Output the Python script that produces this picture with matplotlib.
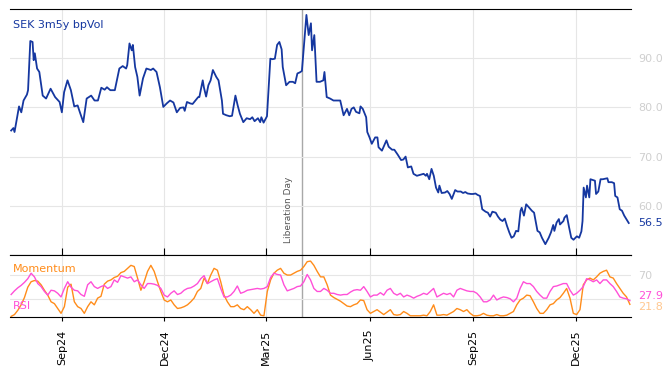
import numpy as np
import pandas as pd
from matplotlib import pyplot as plt
import matplotlib.dates as mdates
import matplotlib.transforms as mtransforms

# SEK 3m5y bp vol
vol_dates = [
    "2024-07-18", "2024-07-20", "2024-07-21", "2024-07-25", "2024-07-27", "2024-07-29", "2024-08-01",
    "2024-08-02", "2024-08-04", "2024-08-06", "2024-08-07", "2024-08-08", "2024-08-10", "2024-08-12",
    "2024-08-15", "2024-08-18", "2024-08-22", "2024-08-26", "2024-08-30", "2024-09-01", "2024-09-03",
    "2024-09-06", "2024-09-09", "2024-09-12", "2024-09-15", "2024-09-17", "2024-09-20", "2024-09-23",
    "2024-09-27", "2024-09-30", "2024-10-03", "2024-10-06", "2024-10-09", "2024-10-11", "2024-10-14",
    "2024-10-18", "2024-10-22", "2024-10-25", "2024-10-28", "2024-10-29", "2024-10-31", "2024-11-02",
    "2024-11-03", "2024-11-05", "2024-11-07", "2024-11-09", "2024-11-12", "2024-11-15", "2024-11-19",
    "2024-11-21", "2024-11-24", "2024-11-27", "2024-11-30", "2024-12-03", "2024-12-06", "2024-12-09",
    "2024-12-12", "2024-12-15", "2024-12-18", "2024-12-19", "2024-12-21", "2024-12-24", "2024-12-26",
    "2024-12-31", "2025-01-01", "2025-01-04", "2025-01-05", "2025-01-07", "2025-01-09", "2025-01-11",
    "2025-01-13", "2025-01-16", "2025-01-18", "2025-01-21", "2025-01-22", "2025-01-25", "2025-01-28",
    "2025-01-30", "2025-02-02", "2025-02-04", "2025-02-06", "2025-02-09", "2025-02-12", "2025-02-15",
    "2025-02-17", "2025-02-19", "2025-02-22", "2025-02-24", "2025-02-25", "2025-02-27", "2025-03-02",
    "2025-03-05", "2025-03-07", "2025-03-09", "2025-03-11", "2025-03-13", "2025-03-15", "2025-03-16",
    "2025-03-19", "2025-03-22", "2025-03-25", "2025-03-27", "2025-03-29", "2025-03-31", "2025-04-02",
    "2025-04-04", "2025-04-06", "2025-04-08", "2025-04-10", "2025-04-11", "2025-04-13", "2025-04-15",
    "2025-04-18", "2025-04-21", "2025-04-22", "2025-04-24", "2025-04-27", "2025-04-30", "2025-05-06",
    "2025-05-09", "2025-05-12", "2025-05-14", "2025-05-16", "2025-05-18", "2025-05-20", "2025-05-23",
    "2025-05-24", "2025-05-26", "2025-05-29", "2025-05-30", "2025-06-01", "2025-06-03", "2025-06-06",
    "2025-06-08", "2025-06-09", "2025-06-12", "2025-06-16", "2025-06-18", "2025-06-21", "2025-06-23",
    "2025-06-26", "2025-06-29", "2025-07-01", "2025-07-03", "2025-07-05", "2025-07-08", "2025-07-10",
    "2025-07-13", "2025-07-16", "2025-07-19", "2025-07-21", "2025-07-22", "2025-07-24", "2025-07-26",
    "2025-07-28", "2025-07-30", "2025-08-01", "2025-08-02", "2025-08-04", "2025-08-07", "2025-08-09",
    "2025-08-11", "2025-08-13", "2025-08-16", "2025-08-18", "2025-08-21", "2025-08-23", "2025-08-25",
    "2025-08-27", "2025-08-30", "2025-09-01", "2025-09-03", "2025-09-05", "2025-09-07", "2025-09-09",
    "2025-09-12", "2025-09-14", "2025-09-16", "2025-09-18", "2025-09-21", "2025-09-23", "2025-09-25",
    "2025-09-27", "2025-09-29", "2025-10-01", "2025-10-03", "2025-10-05", "2025-10-07", "2025-10-09",
    "2025-10-11", "2025-10-13", "2025-10-14", "2025-10-16", "2025-10-18", "2025-10-20", "2025-10-23",
    "2025-10-25", "2025-10-28", "2025-10-30", "2025-11-01", "2025-11-04", "2025-11-07", "2025-11-09",
    "2025-11-11", "2025-11-12", "2025-11-14", "2025-11-16", "2025-11-17", "2025-11-20", "2025-11-21",
    "2025-11-23", "2025-11-25", "2025-11-27", "2025-11-29", "2025-12-02", "2025-12-04", "2025-12-06",
    "2025-12-07", "2025-12-08", "2025-12-10", "2025-12-11", "2025-12-13", "2025-12-14", "2025-12-18",
    "2025-12-19", "2025-12-21", "2025-12-23", "2025-12-25", "2025-12-29", "2025-12-30", "2026-01-02",
    "2026-01-04", "2026-01-05", "2026-01-07", "2026-01-09", "2026-01-11", "2026-01-13", "2026-01-16",
    "2026-01-17",
]
vol = [
    75.3, 75.8, 75.0, 80.2, 79.0, 81.4, 82.6,
    83.5, 93.5, 93.3, 89.6, 91.0, 87.9, 87.2,
    82.4, 81.8, 83.8, 82.1, 81.1, 79.0, 83.1,
    85.5, 83.5, 80.2, 80.4, 79.0, 77.0, 81.8,
    82.4, 81.4, 81.4, 84.0, 83.6, 84.1, 83.5,
    83.5, 87.9, 88.4, 87.9, 88.6, 93.0, 91.6,
    92.7, 88.2, 86.2, 82.4, 85.9, 87.9, 87.6,
    87.9, 87.2, 84.1, 80.1, 80.8, 81.4, 81.0,
    79.0, 79.9, 80.0, 79.3, 81.1, 80.8, 80.7,
    82.1, 82.1, 85.5, 84.1, 82.2, 84.5, 85.5,
    87.6, 86.2, 85.5, 81.4, 78.7, 78.4, 78.2,
    78.3, 82.4, 80.4, 78.7, 77.0, 77.8, 77.6,
    78.0, 77.2, 77.8, 77.0, 78.0, 76.9, 78.2,
    89.9, 89.8, 89.9, 92.7, 93.3, 91.8, 88.2,
    84.5, 85.2, 85.2, 84.9, 86.9, 87.1, 87.4,
    93.0, 98.8, 94.7, 97.1, 91.6, 94.7, 85.2,
    85.2, 85.5, 87.2, 82.1, 81.8, 81.4, 81.4,
    78.4, 79.7, 78.4, 79.7, 80.0, 79.1, 78.8,
    80.2, 79.7, 78.0, 75.0, 73.9, 72.6, 73.9,
    73.9, 71.9, 71.2, 73.3, 72.0, 71.4, 71.4,
    70.4, 69.3, 69.4, 70.0, 67.8, 68.0, 66.5,
    66.1, 66.3, 66.5, 66.1, 66.5, 65.4, 67.5,
    66.1, 63.7, 62.7, 64.1, 62.6, 62.7, 63.0,
    62.4, 61.4, 63.2, 62.9, 62.9, 62.6, 62.8,
    62.5, 62.4, 62.4, 62.5, 62.2, 62.0, 59.3,
    58.8, 58.6, 57.8, 58.8, 58.6, 57.8, 57.2,
    56.9, 57.4, 55.9, 54.6, 53.5, 53.8, 54.9,
    54.8, 59.0, 59.6, 58.0, 60.3, 59.8, 59.0,
    58.6, 54.9, 54.6, 53.5, 52.2, 53.5, 54.6,
    56.1, 54.9, 56.6, 57.3, 56.2, 56.9, 57.6,
    58.1, 55.7, 53.5, 53.1, 53.8, 53.5, 54.8,
    56.9, 63.7, 61.7, 64.1, 61.7, 65.4, 65.1,
    62.4, 62.9, 65.4, 65.4, 65.6, 64.8, 64.8,
    64.6, 62.0, 61.7, 59.3, 59.0, 58.0, 56.9,
    56.5,
]

# momentum / RSI panel, read at an even spacing from 18 Jul 2024 to 18 Jan 2026
rsi = [
    38, 44, 49, 53, 58, 64, 73, 67, 56, 51, 43, 37, 45, 44, 40, 34, 48, 59, 50, 45,
    44, 38, 35, 54, 59, 51, 48, 51, 53, 48, 51, 62, 58, 69, 67, 65, 67, 59, 62, 54,
    48, 56, 56, 55, 53, 48, 37, 34, 40, 44, 38, 40, 45, 48, 49, 52, 56, 64, 69, 56,
    59, 62, 64, 48, 34, 34, 37, 43, 52, 40, 42, 45, 46, 47, 48, 47, 48, 51, 66, 73,
    71, 70, 54, 44, 46, 48, 51, 52, 59, 71, 62, 48, 43, 43,
    48, 45, 40, 40, 38, 37, 38, 38, 42, 45, 46, 45, 51, 43, 34, 37, 37, 41, 37, 45,
    48, 40, 37, 40, 34, 37, 35, 32, 35, 37, 40, 38, 43, 48, 34, 37, 40, 38, 40, 34,
    45, 48, 46, 44, 43, 43, 40, 34, 26, 26, 29, 37, 29, 32, 34, 33, 31, 26, 32, 48,
    59, 56, 56, 51, 43, 37, 32, 32, 43, 51, 52, 54, 56, 56, 45, 37, 40, 45, 51, 64,
    62, 59, 62, 56, 62, 62, 56, 51, 43, 34, 32, 31, 27.9,
]
momentum = [
    2, 5, 12, 21, 33, 50, 59, 61, 60, 54, 45, 37, 26, 23, 15, 7, 18, 50, 55, 26,
    18, 15, 7, 18, 26, 21, 32, 35, 55, 60, 62, 66, 68, 74, 76, 81, 86, 84, 65, 45,
    59, 76, 86, 76, 59, 43, 29, 26, 29, 21, 15, 16, 18, 21, 26, 32, 43, 48, 65, 56,
    70, 81, 78, 59, 37, 26, 18, 18, 21, 15, 13, 18, 13, 7, 13, 4, 3, 43, 62, 73,
    78, 81, 73, 70, 70, 73, 76, 78, 84, 92, 93, 86, 76, 67,
    67, 54, 37, 33, 30, 27, 23, 19, 18, 21, 23, 29, 28, 13, 7, 10, 13, 9, 5, 9,
    13, 5, 4, 5, 10, 7, 3, 3, 3, 3, 4, 3, 10, 21, 4, 4, 5, 4, 7, 10,
    15, 13, 10, 13, 7, 3, 3, 4, 7, 4, 3, 3, 5, 3, 3, 4, 7, 10, 21, 29,
    32, 37, 36, 26, 15, 7, 7, 13, 21, 23, 29, 33, 40, 48, 32, 7, 5, 13, 54, 62,
    65, 62, 67, 73, 76, 78, 67, 65, 56, 48, 40, 34, 21.8,
]
osc_start, osc_end = "2024-07-18", "2026-01-18"

tick_dates = ["2024-09-01", "2024-12-01", "2025-03-01", "2025-06-01", "2025-09-01", "2025-12-01"]
tick_labels = ["Sep24", "Dec24", "Mar25", "Jun25", "Sep25", "Dec25"]
event_date = "2025-04-02"

BLUE = "#1537a0"
ORANGE = "#ff8c1a"
PINK = "#ff4fd8"
GRID = "#e6e6e6"
TICK_GREY = "#cfcfcf"

vol_x = pd.to_datetime(vol_dates)
osc_x = pd.date_range(osc_start, osc_end, periods=len(rsi))
ticks = pd.to_datetime(tick_dates)
event = pd.Timestamp(event_date)
xlim = (pd.Timestamp("2024-07-17"), pd.Timestamp("2026-01-19"))

fig = plt.figure(figsize=(6.68, 3.66), dpi=100)
ax = fig.add_axes([0.015, 0.3033, 0.9296, 0.6721])
ax2 = fig.add_axes([0.015, 0.1339, 0.9296, 0.1694], sharex=ax)

# main panel
ax.plot(vol_x, vol, color=BLUE, lw=1.3)
ax.set_ylim(50, 100)
ax.set_xlim(*xlim)
ax.set_yticks([60, 70, 80, 90])
ax.set_yticklabels(["60.0", "70.0", "80.0", "90.0"])
ax.yaxis.tick_right()
ax.tick_params(axis="y", length=0, pad=5, labelsize=8, labelcolor=TICK_GREY)
ax.set_xticks(ticks)
ax.tick_params(axis="x", direction="in", length=5, labelbottom=False)
ax.grid(True, color=GRID, lw=0.8)
for s in ["left", "right"]:
    ax.spines[s].set_visible(False)
ax.text(0.005, 0.935, "SEK 3m5y bpVol", transform=ax.transAxes, color=BLUE,
        fontsize=8, va="center", ha="left")
ax.annotate(f"{vol[-1]:.1f}", xy=(1, vol[-1]), xycoords=("axes fraction", "data"),
            xytext=(5, 0), textcoords="offset points", color=BLUE, fontsize=8, va="center")

# event line across both panels
for a in (ax, ax2):
    a.axvline(event, color="#a8a8a8", lw=1, zorder=1)
ax.annotate("Liberation Day", xy=(event, 0.05), xycoords=("data", "axes fraction"),
            xytext=(-10, 0), textcoords="offset points", rotation=90,
            ha="center", va="bottom", fontsize=6.5, color="#555555")

# oscillator panel
ax2.plot(osc_x, momentum, color=ORANGE, lw=1)
ax2.plot(osc_x, rsi, color=PINK, lw=1)
ax2.set_ylim(1, 103)
ax2.set_yticks([30, 70])
ax2.set_yticklabels(["", "70"])
ax2.yaxis.tick_right()
ax2.tick_params(axis="y", length=0, pad=5, labelsize=8, labelcolor=TICK_GREY)
ax2.set_xticks(ticks)
ax2.set_xticklabels(tick_labels, rotation=90, fontsize=8)
ax2.tick_params(axis="x", direction="out", length=3, pad=6)
ax2.grid(True, color=GRID, lw=0.8)
for s in ["left", "right"]:
    ax2.spines[s].set_visible(False)
ax2.text(0.005, 0.78, "Momentum", transform=ax2.transAxes, color=ORANGE,
         fontsize=8, va="center", ha="left")
ax2.text(0.005, 0.18, "RSI", transform=ax2.transAxes, color=PINK,
         fontsize=8, va="center", ha="left")
ax2.annotate(f"{momentum[-1]:.1f}", xy=(1, momentum[-1]), xycoords=("axes fraction", "data"),
             xytext=(5, -2), textcoords="offset points", color="#ffc890", fontsize=8, va="center")
ax2.annotate(f"{rsi[-1]:.1f}", xy=(1, rsi[-1]), xycoords=("axes fraction", "data"),
             xytext=(5, 3), textcoords="offset points", color=PINK, fontsize=8, va="center")

plt.savefig("out.png", dpi=100)
plt.close()
